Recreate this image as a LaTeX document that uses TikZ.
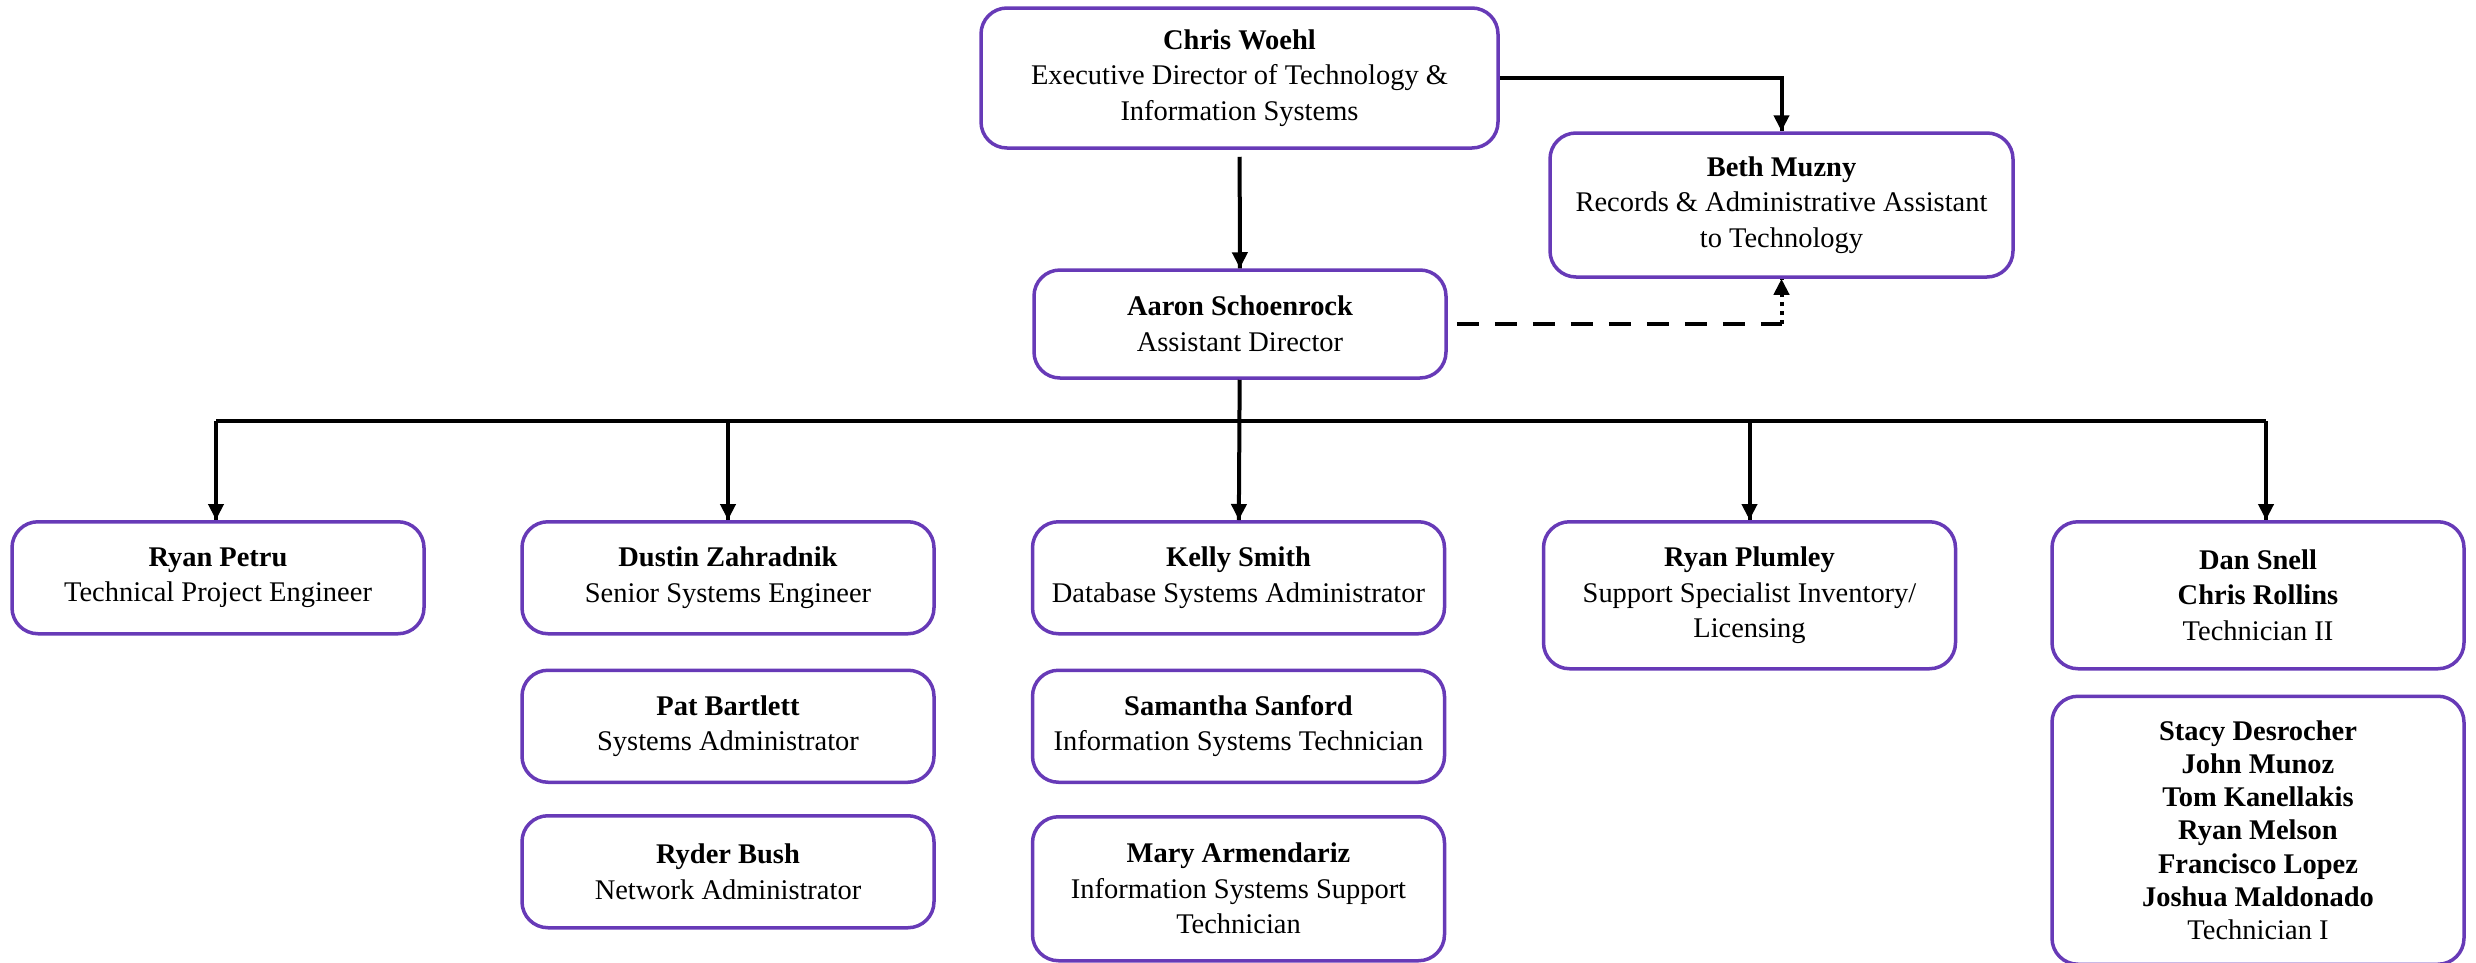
\documentclass[tikz,border=0pt]{standalone}
\usepackage{fontspec}
\setmainfont{Liberation Serif}
\usetikzlibrary{positioning,decorations.markings,arrows.meta}
\definecolor{boxpurple}{HTML}{673AB7}

\begin{document}
\begin{tikzpicture}[x=0.1mm, y=-0.1mm, node distance=3.2mm,
  box/.style={draw=boxpurple, line width=0.35mm, rounded corners=2.6mm, align=center, inner sep=0pt,
    minimum width=41.2mm, minimum height=11.2mm, font=\fontsize{8.1}{10.1}\selectfont},
  tall/.style={minimum height=14.7mm},
  link/.style={line width=0.4mm},
  arr/.style={link, decoration={markings,mark=at position 1 with {\arrow{Triangle[width=1.5mm,length=1.6mm]}}}, postaction={decorate}},
  dashlink/.style={link, dash pattern=on 2.2mm off 1.6mm},
  dotlink/.style={arr, dash pattern=on 0.45mm off 0.45mm}]
\useasboundingbox (0,0) rectangle (2476,963);

% top
\node (woehl) [box, minimum width=51.7mm, minimum height=14mm] at (1239.5,78) {\textbf{Chris Woehl}\\Executive Director of Technology \&\\Information Systems};
\node (muzny) [box, minimum width=46.3mm, minimum height=14.4mm] at (1781.5,205) {\textbf{Beth Muzny}\\Records \& Administrative Assistant\\to Technology};
\node (schoenrock) [box, minimum height=10.8mm] at (1240,324) {\textbf{Aaron Schoenrock}\\Assistant Director};

% second row
\node (petru) [box, anchor=north] at (218,520) {\textbf{Ryan Petru}\\Technical Project Engineer};
\node (zahradnik) [box, anchor=north] at (728,520) {\textbf{Dustin Zahradnik}\\Senior Systems Engineer};
\node (smith) [box, anchor=north] at (1238.5,520) {\textbf{Kelly Smith}\\Database Systems Administrator};
\node (plumley) [box, tall, anchor=north] at (1749.5,520) {\textbf{Ryan Plumley}\\Support Specialist Inventory/\\Licensing};
\node (snell) [box, tall, anchor=north] at (2258,520) {\textbf{Dan Snell}\\\textbf{Chris Rollins}\\Technician II};

% stacks
\node (bartlett) [box, below=3.3mm of zahradnik] {\textbf{Pat Bartlett}\\Systems Administrator};
\node (bush) [box, below=3mm of bartlett] {\textbf{Ryder Bush}\\Network Administrator};
\node (sanford) [box, below=3.3mm of smith] {\textbf{Samantha Sanford}\\Information Systems Technician};
\node (armendariz) [box, minimum height=14.4mm, below=3.1mm of sanford] {\textbf{Mary Armendariz}\\Information Systems Support\\Technician};
\node (techone) [box, minimum height=26.8mm, font=\fontsize{8.1}{9.4}\selectfont, below=2.4mm of snell] {\textbf{Stacy Desrocher}\\\textbf{John Munoz}\\\textbf{Tom Kanellakis}\\\textbf{Ryan Melson}\\\textbf{Francisco Lopez}\\\textbf{Joshua Maldonado}\\Technician I};

% connectors
\coordinate (busleft) at (216,421);
\coordinate (busright) at (2266,421);
\coordinate (dashbend) at (muzny.south |- schoenrock.east);
\draw[arr, shorten <=0.7mm] (woehl) -- (schoenrock);
\draw[arr] (woehl.east) -| (muzny);
\draw[dashlink, shorten <=0.9mm] (schoenrock.east) -- (dashbend);
\draw[dotlink] (dashbend) -- (muzny);
\draw[arr] (schoenrock) -- (smith);
\draw[link] (busleft) -- (busright);
\draw[arr] (busleft) -- (busleft |- petru.north);
\draw[arr] (busleft -| zahradnik) -- (zahradnik);
\draw[arr] (busleft -| plumley) -- (plumley);
\draw[arr] (busright) -- (busright |- snell.north);
\end{tikzpicture}
\end{document}
